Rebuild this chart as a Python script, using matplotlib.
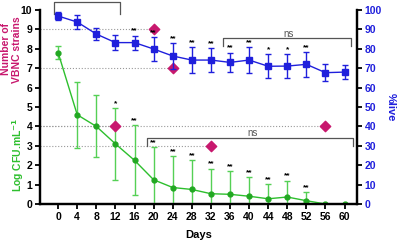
import matplotlib
matplotlib.use('Agg')
import matplotlib.pyplot as plt
import numpy as np

plt.rcParams['font.family'] = ['Liberation Sans', 'DejaVu Sans']

days = [0, 4, 8, 12, 16, 20, 24, 28, 32, 36, 40, 44, 48, 52, 56, 60]

# log CFU/mL (left axis)
cfu = [7.8, 4.6, 4.0, 3.1, 2.25, 1.25, 0.85, 0.75, 0.53, 0.5, 0.4, 0.27, 0.36, 0.17, 0.0, 0.0]
cfu_err = [0.35, 1.7, 1.6, 1.85, 1.8, 1.7, 1.6, 1.5, 1.3, 1.2, 1.0, 0.75, 0.85, 0.45, 0.0, 0.0]
cfu_stars = ['', '', '', '*', '**', '**', '**', '**', '**', '**', '**', '**', '**', '**', '', '']

# % alive (right axis)
alive = [96.9, 93.8, 87.6, 83.2, 83.2, 79.9, 76.3, 74.2, 74.2, 73.0, 74.2, 71.0, 71.1, 72.0, 67.7, 68.0]
alive_err = [2.0, 3.5, 3.3, 3.8, 3.6, 6.0, 6.5, 6.8, 6.2, 5.0, 6.5, 6.3, 6.3, 6.3, 4.3, 3.5]
alive_stars = ['', '', '', '', '**', '**', '**', '**', '**', '**', '**', '*', '*', '**', '', '']

# number of VBNC strains
vbnc_days = [12, 20, 24, 32, 56]
vbnc_n = [4, 9, 7, 3, 4]

green = '#2dbf2d'
blue = '#1f1fdc'
pink = '#c8186e'
gray = '#555555'

fig = plt.figure(figsize=(4.0, 2.46), dpi=100)
ax = fig.add_axes([0.1, 0.1707, 0.7925, 0.7886])
ax2 = ax.twinx()

# dotted guide lines to the diamonds
for d, n in zip(vbnc_days, vbnc_n):
    ax.plot([-3.8, d], [n, n], color='#999999', ls=':', lw=0.8, zorder=1)

ax.errorbar(days, cfu, yerr=cfu_err, color=green, ecolor='#55d055', lw=1.0,
            elinewidth=1.0, capsize=2, capthick=1.0, marker='o', ms=3.5,
            mfc='#22a822', mec='#22a822', zorder=3)
ax.scatter(vbnc_days, vbnc_n, marker='D', s=28, color=pink, zorder=4)

for d, v, e, s in zip(days, cfu, cfu_err, cfu_stars):
    if s:
        ax.text(d, v + e + 0.05, s, ha='center', va='bottom', fontsize=6,
                fontweight='bold', color='black')

ax2.errorbar(days, alive, yerr=alive_err, color=blue, lw=1.0, elinewidth=1.0,
             capsize=2, capthick=1.0, marker='s', ms=3.8, zorder=3)
for d, v, e, s in zip(days, alive, alive_err, alive_stars):
    if s:
        ax2.text(d, v + e + 0.5, s, ha='center', va='bottom', fontsize=6,
                 fontweight='bold', color='black')

# brackets
def bracket(x0, x1, ytop, ybot, xt, yt):
    ax.plot([x0, x0, x1, x1], [ybot, ytop, ytop, ybot], color=gray, lw=0.9,
            clip_on=False, zorder=2)
    ax.text(xt, yt, 'ns', ha='center', va='bottom', fontsize=7, color=gray,
            clip_on=False)

bracket(-0.8, 13, 10.42, 9.8, 6, 10.42)
bracket(34.5, 61.4, 8.54, 8.16, 48.2, 8.5)
bracket(18.6, 61.8, 3.42, 3.0, 40.8, 3.38)

ax.set_xlim(-3.8, 62.6)
ax.set_ylim(0, 10)
ax2.set_ylim(0, 100)
ax.set_xticks(days)
ax.set_yticks(range(0, 11))
ax2.set_yticks(range(0, 101, 10))

for a in (ax, ax2):
    a.spines['top'].set_visible(False)
    for sp in ('left', 'right', 'bottom'):
        a.spines[sp].set_linewidth(1.6)
    a.tick_params(width=1.3, length=3.5, labelsize=7.5, pad=2)
for lab in ax.get_xticklabels() + ax.get_yticklabels():
    lab.set_fontweight('bold')
for lab in ax2.get_yticklabels():
    lab.set_fontweight('bold')
    lab.set_color(blue)

ax.set_xlabel('Days', fontsize=8, fontweight='bold', labelpad=6)
ax2.set_ylabel('%live', fontsize=8, fontweight='bold', color=blue, rotation=270,
               labelpad=10)

fig.text(0.028, 0.80, 'Number of\nVBNC strains', rotation=90, ha='center',
         va='center', fontsize=7.5, fontweight='bold', color=pink, linespacing=1.1)
fig.text(0.045, 0.37, 'Log CFU.mL$^{\\mathbf{-1}}$', rotation=90, ha='center',
         va='center', fontsize=7.5, fontweight='bold', color=green)

fig.savefig('out.png', dpi=100)
